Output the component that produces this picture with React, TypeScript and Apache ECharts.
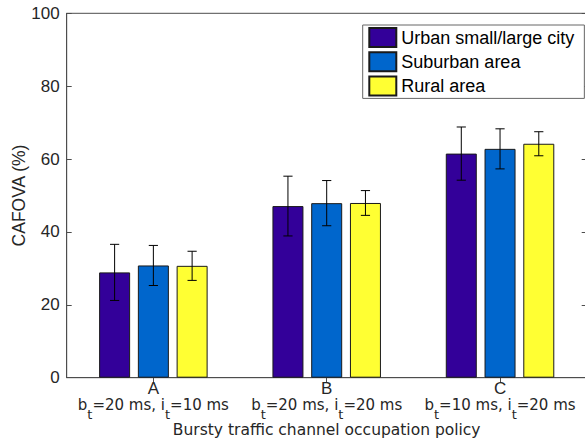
import React, { useEffect, useRef } from "react";
import * as echarts from "echarts";

const categories = ["A", "B", "C"];
const burstTimes = [20, 20, 10];
const idleTimes = [10, 20, 20];
const seriesNames = ["Urban small/large city", "Suburban area", "Rural area"];
const urbanValues = [28.9, 47.1, 61.5];
const suburbanValues = [30.8, 47.9, 62.8];
const ruralValues = [30.7, 47.95, 64.2];
const urbanErrors = [7.7, 8.2, 7.3];
const suburbanErrors = [5.5, 6.2, 5.5];
const ruralErrors = [4.0, 3.4, 3.3];
const yTicks = { min: 0, max: 100, interval: 20 };

const colors = ["#330099", "#0066cc", "#ffff33"];
const FONT = "Liberation Sans";
const WIDE_FONT = "DejaVu Sans";
const AXIS_COLOR = "#4d4d4d";
const TEXT_COLOR = "#262626";
const BAR_WIDTH = 31;
const BAR_GAP_PX = 7.75;
const CAP_HALF = 4.6;

export default function App() {
  const ref = useRef<HTMLDivElement>(null);

  useEffect(() => {
    if (!ref.current) return;
    const chart = echarts.init(ref.current, undefined, { renderer: "svg" });
    const values = [urbanValues, suburbanValues, ruralValues];
    const errors = [urbanErrors, suburbanErrors, ruralErrors];

    const barSeries = seriesNames.map((name, s) => ({
      name,
      type: "bar",
      xAxisIndex: 0,
      yAxisIndex: 0,
      data: values[s],
      barWidth: BAR_WIDTH,
      barGap: (BAR_GAP_PX / BAR_WIDTH) * 100 + "%",
      itemStyle: { color: colors[s], borderColor: "#1a1a1a", borderWidth: 1 },
      emphasis: { disabled: true },
      z: 2,
    }));

    const errorSeries = seriesNames.map((_, s) => ({
      type: "custom",
      xAxisIndex: 0,
      yAxisIndex: 0,
      z: 5,
      clip: false,
      data: values[s].map((v, i) => [i, v, errors[s][i]]),
      renderItem: (params: any, api: any) => {
        const ci = api.value(0);
        const v = api.value(1);
        const e = api.value(2);
        const top = api.coord([ci, v + e]);
        const bot = api.coord([ci, v - e]);
        const x = top[0] + (s - 1) * (BAR_WIDTH + BAR_GAP_PX);
        const st = { stroke: "#000", lineWidth: 1 };
        return {
          type: "group",
          children: [
            { type: "line", shape: { x1: x, y1: top[1], x2: x, y2: bot[1] }, style: st },
            { type: "line", shape: { x1: x - CAP_HALF, y1: top[1], x2: x + CAP_HALF, y2: top[1] }, style: st },
            { type: "line", shape: { x1: x - CAP_HALF, y1: bot[1], x2: x + CAP_HALF, y2: bot[1] }, style: st },
          ],
        };
      },
    }));

    const option: any = {
      animation: false,
      backgroundColor: "#ffffff",
      textStyle: { fontFamily: FONT },
      grid: {
        left: 66.7,
        width: 520,
        top: 13.3,
        height: 364.4,
        containLabel: false,
        outerBoundsMode: "none",
        show: true,
        borderColor: AXIS_COLOR,
        borderWidth: 1,
        backgroundColor: "transparent",
      },
      legend: {
        data: seriesNames,
        orient: "vertical",
        left: 362.7,
        top: 25,
        padding: [2, 10, 2, 5.6],
        itemGap: 3.2,
        itemWidth: 27,
        itemHeight: 19,
        itemTextGap: 4,
        icon: "rect",
        borderColor: "#666666",
        borderWidth: 1,
        backgroundColor: "#ffffff",
        selectedMode: false,
        textStyle: { fontFamily: FONT, fontSize: 18, color: "#000", lineHeight: 19 },
      },
      xAxis: [
        {
          type: "category",
          data: categories,
          position: "bottom",
          boundaryGap: true,
          axisLine: { show: true, lineStyle: { color: AXIS_COLOR, width: 1 } },
          axisTick: { show: true, inside: true, alignWithLabel: true, length: 5, lineStyle: { color: AXIS_COLOR } },
          axisLabel: {
            interval: 0,
            margin: 2,
            color: TEXT_COLOR,
            formatter: (v: string, i: number) =>
              "{big|" + v + "}\n{n|b}{s|t}{n|=" + burstTimes[i] + " ms, i}{s|t}{n|=" + idleTimes[i] + " ms}",
            rich: {
              big: { fontFamily: FONT, fontSize: 17, lineHeight: 17, color: TEXT_COLOR, verticalAlign: "top" },
              n: { fontFamily: WIDE_FONT, fontSize: 15, lineHeight: 15, color: TEXT_COLOR, verticalAlign: "top", padding: [1, 0, 0, 0] },
              s: { fontFamily: WIDE_FONT, fontSize: 13, lineHeight: 9, color: TEXT_COLOR, verticalAlign: "top", padding: [11, 0, 0, 0] },
            },
          },
          splitLine: { show: false },
          name: "Bursty traffic channel occupation policy",
          nameLocation: "middle",
          nameGap: 44,
          nameMoveOverlap: false,
          nameTextStyle: { fontFamily: WIDE_FONT, fontSize: 15.5, color: TEXT_COLOR },
        },
        {
          type: "category",
          data: categories,
          position: "top",
          boundaryGap: true,
          axisLine: { show: false },
          axisTick: { show: true, inside: true, alignWithLabel: true, length: 5, lineStyle: { color: AXIS_COLOR } },
          axisLabel: { show: false },
          splitLine: { show: false },
        },
      ],
      yAxis: [
        {
          type: "value",
          position: "left",
          min: yTicks.min,
          max: yTicks.max,
          interval: yTicks.interval,
          axisLine: { show: true, lineStyle: { color: AXIS_COLOR, width: 1 } },
          axisTick: { show: true, inside: true, length: 5, lineStyle: { color: AXIS_COLOR } },
          axisLabel: { fontFamily: FONT, fontSize: 17, color: TEXT_COLOR, margin: 7 },
          splitLine: { show: false },
          name: "CAFOVA (%)",
          nameLocation: "middle",
          nameGap: 39,
          nameMoveOverlap: false,
          nameTextStyle: { fontFamily: FONT, fontSize: 17.5, color: TEXT_COLOR },
        },
        {
          type: "value",
          position: "right",
          min: yTicks.min,
          max: yTicks.max,
          interval: yTicks.interval,
          axisLine: { show: false },
          axisTick: { show: true, inside: true, length: 5, lineStyle: { color: AXIS_COLOR } },
          axisLabel: { show: false },
          splitLine: { show: false },
        },
      ],
      series: [...barSeries, ...errorSeries],
    };

    chart.setOption(option);
    return () => chart.dispose();
  }, []);

  return (
    <div
      ref={ref}
      style={{ position: "fixed", left: 0, top: 0, width: 585, height: 441, background: "#fff" }}
    />
  );
}
